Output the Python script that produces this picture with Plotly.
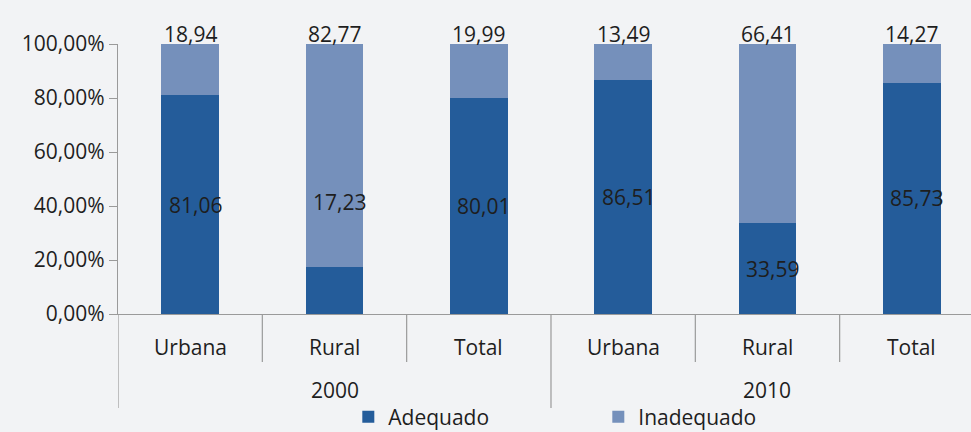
import plotly.graph_objects as go

years = ["2000", "2010"]
categories = ["Urbana", "Rural", "Total", "Urbana", "Rural", "Total"]
category_year = ["2000", "2000", "2000", "2010", "2010", "2010"]
adequado = [81.06, 17.23, 80.01, 86.51, 33.59, 85.73]
inadequado = [18.94, 82.77, 19.99, 13.49, 66.41, 14.27]
y_tickvals = [0, 20, 40, 60, 80, 100]

FONT = "Open Sans"
TXT = "#1e1e1e"
AXIS = "#9a9a9a"
BG = "#f2f3f5"
C_ADE = "#245c9a"
C_INA = "#7590bb"
FS = 21

x = list(range(len(categories)))

def fmt(v):
    return f"{v:.2f}".replace(".", ",")

fig = go.Figure()
fig.add_trace(go.Bar(x=x, y=adequado, name="Adequado", marker=dict(color=C_ADE, line=dict(width=0)),
                     width=0.4, hoverinfo="skip"))
fig.add_trace(go.Bar(x=x, y=inadequado, name="Inadequado", marker=dict(color=C_INA, line=dict(width=0)),
                     width=0.4, hoverinfo="skip"))

ann = []
for i in x:
    a, b = adequado[i], inadequado[i]
    ann.append(dict(x=i, y=a + b, xref="x", yref="y", text=fmt(b), showarrow=False,
                    yanchor="bottom", yshift=-6, font=dict(family=FONT, size=FS, color=TXT)))
    ly = b / 2 if a < 25 else a / 2
    ann.append(dict(x=i, y=ly, xref="x", yref="y", text=fmt(a), showarrow=False,
                    xshift=5, font=dict(family=FONT, size=FS, color=TXT)))
    ann.append(dict(x=i, y=0, xref="x", yref="paper", text=categories[i], showarrow=False,
                    yanchor="middle", yshift=-33, font=dict(family=FONT, size=FS, color=TXT)))

for yr in years:
    idx = [i for i in x if category_year[i] == yr]
    mid = sum(idx) / len(idx)
    ann.append(dict(x=mid, y=0, xref="x", yref="paper", text=yr, showarrow=False,
                    yanchor="middle", yshift=-76, font=dict(family=FONT, size=FS, color=TXT)))

shapes = []
plot_h = 270
for i in x:
    if i == 0 or category_year[i] != category_year[i - 1]:
        y1 = -94 / plot_h
    else:
        y1 = -48 / plot_h
    shapes.append(dict(type="line", xref="x", yref="paper", x0=i - 0.5, x1=i - 0.5, y0=0, y1=y1,
                       line=dict(color=AXIS, width=1.2)))

fig.update_layout(
    barmode="stack",
    width=971, height=432,
    margin=dict(l=118, r=0, t=44, b=118, autoexpand=False),
    paper_bgcolor=BG, plot_bgcolor=BG,
    font=dict(family=FONT, size=FS, color=TXT),
    annotations=ann, shapes=shapes,
    showlegend=True,
    legend=dict(orientation="h", x=0.27, xanchor="left", y=-103 / plot_h, yanchor="middle",
                entrywidth=205, entrywidthmode="pixels", traceorder="normal",
                font=dict(family=FONT, size=FS, color=TXT), bgcolor="rgba(0,0,0,0)"),
    xaxis=dict(range=[-0.5, 5.41], showticklabels=False, ticks="", showgrid=False, zeroline=False,
               showline=True, linecolor=AXIS, linewidth=1.2, fixedrange=True, automargin=False),
    yaxis=dict(range=[0, 100], tickvals=y_tickvals, ticktext=[fmt(v) + "%" for v in y_tickvals],
               ticks="outside", ticklen=8, tickcolor=AXIS, showgrid=False, zeroline=False,
               showline=True, linecolor=AXIS, linewidth=1.2, automargin=False,
               tickfont=dict(family=FONT, size=FS, color=TXT)),
)

fig.write_html("out.html", config={"displayModeBar": False},
               post_script="document.body.style.margin='0';document.body.style.background='%s';" % BG)
